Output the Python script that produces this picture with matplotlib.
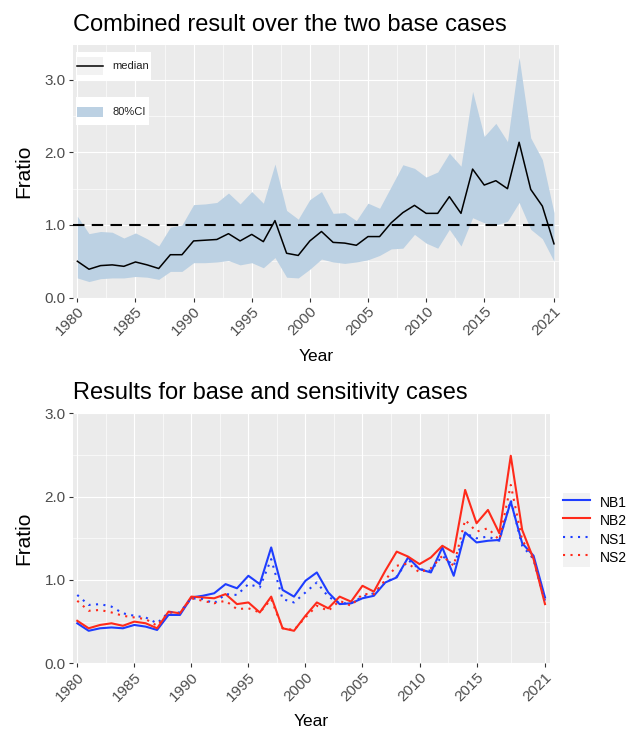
import matplotlib
matplotlib.use("Agg")
import matplotlib.pyplot as plt
from matplotlib.lines import Line2D
from matplotlib.patches import Patch, Rectangle
from matplotlib.legend_handler import HandlerTuple
from matplotlib.ticker import FormatStrFormatter
import numpy as np

plt.rcParams['font.family'] = ['Liberation Sans', 'DejaVu Sans']

years = np.arange(1980, 2022)

# combined result (top panel)
median = [0.50, 0.39, 0.44, 0.45, 0.43, 0.49, 0.45, 0.40, 0.59, 0.59,
          0.78, 0.79, 0.80, 0.88, 0.78, 0.87, 0.77, 1.06, 0.61, 0.58,
          0.78, 0.91, 0.76, 0.75, 0.72, 0.84, 0.84, 1.03, 1.17, 1.27,
          1.16, 1.16, 1.39, 1.16, 1.77, 1.55, 1.61, 1.50, 2.14, 1.49,
          1.26, 0.74]
ci_lo = [0.27, 0.22, 0.26, 0.27, 0.27, 0.29, 0.28, 0.25, 0.36, 0.36,
         0.48, 0.48, 0.49, 0.51, 0.45, 0.48, 0.41, 0.55, 0.28, 0.27,
         0.39, 0.53, 0.49, 0.47, 0.49, 0.52, 0.58, 0.67, 0.68, 0.87,
         0.75, 0.68, 0.94, 0.71, 1.10, 1.03, 1.00, 1.05, 1.31, 0.94,
         0.81, 0.50]
ci_hi = [1.12, 0.88, 0.91, 0.90, 0.82, 0.89, 0.81, 0.71, 0.97, 1.00,
         1.28, 1.29, 1.31, 1.44, 1.29, 1.46, 1.30, 1.84, 1.20, 1.08,
         1.35, 1.46, 1.16, 1.17, 1.06, 1.30, 1.23, 1.53, 1.83, 1.78,
         1.66, 1.73, 1.99, 1.81, 2.84, 2.22, 2.40, 2.15, 3.31, 2.20,
         1.90, 1.17]

# base and sensitivity cases (bottom panel)
nb1 = [0.48, 0.39, 0.42, 0.43, 0.42, 0.46, 0.44, 0.40, 0.58, 0.58,
       0.79, 0.81, 0.84, 0.95, 0.90, 1.05, 0.95, 1.39, 0.88, 0.80,
       0.99, 1.09, 0.85, 0.71, 0.72, 0.78, 0.81, 0.97, 1.03, 1.27,
       1.13, 1.09, 1.39, 1.05, 1.57, 1.45, 1.47, 1.48, 1.94, 1.44,
       1.29, 0.79]
nb2 = [0.51, 0.42, 0.46, 0.48, 0.45, 0.50, 0.48, 0.42, 0.62, 0.60,
       0.80, 0.79, 0.78, 0.83, 0.71, 0.73, 0.61, 0.80, 0.42, 0.39,
       0.57, 0.73, 0.66, 0.80, 0.74, 0.93, 0.86, 1.11, 1.34, 1.28,
       1.19, 1.27, 1.41, 1.33, 2.08, 1.68, 1.84, 1.56, 2.49, 1.60,
       1.25, 0.71]
ns1 = [0.82, 0.70, 0.71, 0.68, 0.60, 0.57, 0.55, 0.48, 0.61, 0.61,
       0.78, 0.77, 0.72, 0.83, 0.82, 0.95, 0.91, 1.25, 0.77, 0.73,
       0.85, 0.97, 0.80, 0.72, 0.72, 0.80, 0.84, 0.97, 1.04, 1.24,
       1.13, 1.11, 1.29, 1.17, 1.56, 1.50, 1.52, 1.47, 1.96, 1.41,
       1.25, 0.75]
ns2 = [0.75, 0.63, 0.64, 0.61, 0.57, 0.55, 0.53, 0.45, 0.61, 0.60,
       0.78, 0.75, 0.72, 0.75, 0.65, 0.66, 0.61, 0.77, 0.42, 0.40,
       0.55, 0.69, 0.63, 0.75, 0.69, 0.83, 0.83, 1.00, 1.17, 1.20,
       1.09, 1.14, 1.29, 1.17, 1.72, 1.58, 1.62, 1.48, 2.14, 1.48,
       1.25, 0.73]

case_names = ['NB1', 'NB2', 'NS1', 'NS2']
xticks = [1980, 1985, 1990, 1995, 2000, 2005, 2010, 2015, 2021]
yticks = [0.0, 1.0, 2.0, 3.0]

BLUE = '#1E3DFF'
RED = '#FF2A1A'
BAND = '#BCD1E3'
DOT = (0, (1, 2.6))


def style(ax):
    ax.set_facecolor('#EBEBEB')
    for s in ax.spines.values():
        s.set_visible(False)
    ax.set_xticks(xticks)
    ax.set_xticklabels([str(t) for t in xticks], rotation=45, ha='right',
                       va='top', rotation_mode='anchor')
    ax.set_xticks(np.array(xticks[:-1]) + np.diff(xticks) / 2, minor=True)
    ax.set_yticks(yticks)
    ax.set_yticks(np.array(yticks[:-1]) + 0.5, minor=True)
    ax.yaxis.set_major_formatter(FormatStrFormatter('%.1f'))
    ax.grid(which='major', color='white', lw=0.85)
    ax.grid(which='minor', color='white', lw=0.45)
    ax.set_axisbelow(True)
    ax.tick_params(which='minor', length=0)
    ax.tick_params(which='major', length=3, width=0.8, color='#333333',
                   labelcolor='#4D4D4D', labelsize=11, pad=2)


fig = plt.figure(figsize=(6.36, 7.33), dpi=100)

# ---- top panel
ax1 = fig.add_axes([0.1143, 0.5941, 0.7646, 0.3445])
style(ax1)
ax1.fill_between(years, ci_lo, ci_hi, color=BAND, lw=0)
ax1.axhline(1.0, color='black', lw=1.5, ls=(0, (5.5, 3.5)))
ax1.plot(years, median, color='black', lw=1.1)
ax1.set_xlim(1979.6, 2021.43)
ax1.set_ylim(0, 3.48)
ax1.set_title('Combined result over the two base cases', loc='left',
              fontsize=17, pad=10)

# hand-built legend boxes like the ggplot inside legend
tA = ax1.transAxes
ax1.add_patch(Rectangle((0.006, 0.859), 0.156, 0.115, transform=tA,
                        fc='white', ec='none', zorder=5))
ax1.add_patch(Rectangle((0.0095, 0.881), 0.0535, 0.071, transform=tA,
                        fc='#F2F2F2', ec='none', zorder=6))
ax1.add_line(Line2D([0.0095, 0.063], [0.917, 0.917], transform=tA,
                    color='black', lw=1.1, zorder=7))
ax1.text(0.0823, 0.917, 'median', transform=tA, fontsize=8,
         color='#222222', va='center', zorder=7)
ax1.add_patch(Rectangle((0.006, 0.683), 0.151, 0.111, transform=tA,
                        fc='white', ec='none', zorder=5))
ax1.add_patch(Rectangle((0.0095, 0.715), 0.0535, 0.039, transform=tA,
                        fc=BAND, ec='none', zorder=6))
ax1.text(0.0823, 0.735, '80%CI', transform=tA, fontsize=8,
         color='#222222', va='center', zorder=7)

fig.text(315.9 / 636, 1 - 360.7 / 733, 'Year', ha='center', va='baseline',
         fontsize=12.5)
fig.text(23.8 / 636, 1 - 171.25 / 733, 'Fratio', rotation=90, ha='center',
         va='center', fontsize=15)

# ---- bottom panel
ax2 = fig.add_axes([0.1143, 0.0951, 0.7505, 0.3411])
style(ax2)
ax2.plot(years, nb1, color=BLUE, lw=1.5)
ax2.plot(years, nb2, color=RED, lw=1.5)
ax2.plot(years, ns1, color=BLUE, lw=1.5, ls=DOT)
ax2.plot(years, ns2, color=RED, lw=1.5, ls=DOT)
ax2.set_xlim(1979.6, 2021.44)
ax2.set_ylim(0, 3.0)
ax2.set_title('Results for base and sensitivity cases', loc='left',
              fontsize=17, pad=10.5)

keybg = dict(fc='#F2F2F2', ec='none')
handles = [(Patch(**keybg), Line2D([], [], color=BLUE, lw=1.5)),
           (Patch(**keybg), Line2D([], [], color=RED, lw=1.5)),
           (Patch(**keybg), Line2D([], [], color=BLUE, lw=1.5, ls=DOT)),
           (Patch(**keybg), Line2D([], [], color=RED, lw=1.5, ls=DOT))]
ax2.legend(handles, case_names, handler_map={tuple: HandlerTuple()},
           loc='upper left', bbox_to_anchor=(562.7 / 636, 1 - 492.7 / 733),
           bbox_transform=fig.transFigure, frameon=False, borderpad=0,
           borderaxespad=0, labelspacing=0, handlelength=2.0,
           handleheight=1.68, handletextpad=0.67, fontsize=10)

fig.text(311.4 / 636, 1 - 725.5 / 733, 'Year', ha='center', va='baseline',
         fontsize=12.5)
fig.text(23.8 / 636, 1 - 538.3 / 733, 'Fratio', rotation=90, ha='center',
         va='center', fontsize=15)

fig.savefig('out.png', dpi=100)
